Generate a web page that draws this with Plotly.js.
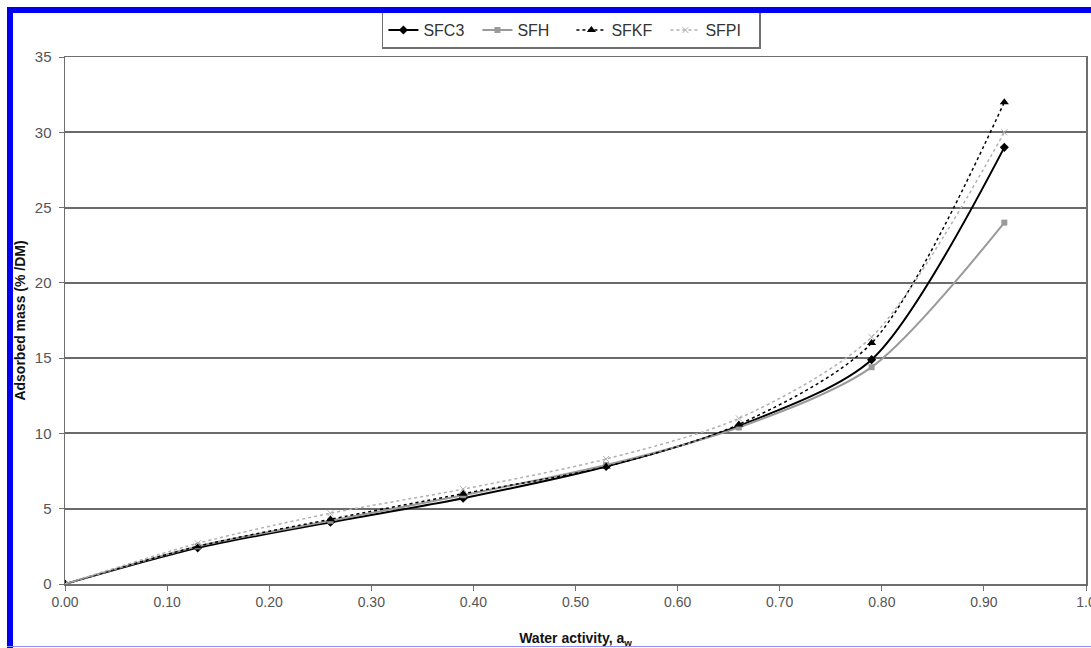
<!DOCTYPE html>
<html>
<head>
<meta charset="utf-8">
<script src="https://cdn.plot.ly/plotly-3.0.1.min.js"></script>
<style>
  html, body { margin: 0; padding: 0; background: #fff; }
  #wrap { position: relative; width: 1091px; height: 648px; overflow: hidden; }
  #chart { position: absolute; left: 0; top: 0; width: 1091px; height: 648px; }
  .bar { position: absolute; background: #0000f0; }
</style>
</head>
<body>
<div id="wrap">
  <div id="chart"></div>
  <div class="bar" style="left:7px; top:7px; width:1084px; height:6px;"></div>
  <div class="bar" style="left:7px; top:7px; width:6px; height:641px;"></div>
  <div class="bar" style="left:7px; top:646px; width:1084px; height:1px; background:#8c8cff;"></div>
</div>
<script>
// Water activity (x) values
const waterActivity = [0, 0.13, 0.26, 0.39, 0.53, 0.66, 0.79, 0.92];

// Adsorbed mass (% / DM) per sample
const SFC3 = [0, 2.4, 4.1, 5.7, 7.8, 10.5, 14.9, 29];
const SFH  = [0, 2.5, 4.2, 5.9, 7.9, 10.4, 14.4, 24];
const SFKF = [0, 2.5, 4.3, 6.0, 7.8, 10.6, 16.0, 32];
const SFPI = [0, 2.7, 4.7, 6.3, 8.3, 11.0, 16.4, 30];

const xTickVals = [0, 0.1, 0.2, 0.3, 0.4, 0.5, 0.6, 0.7, 0.8, 0.9, 1.0];
const xTickText = ["0.00", "0.10", "0.20", "0.30", "0.40", "0.50", "0.60", "0.70", "0.80", "0.90", "1.0"];
const yTickVals = [0, 5, 10, 15, 20, 25, 30, 35];

const FONT = "Liberation Sans, Arial, sans-serif";

const traces = [
  { name: "SFC3", x: waterActivity, y: SFC3, mode: "lines+markers",
    line: { color: "#000000", width: 2, shape: "spline", smoothing: 0.8 },
    marker: { symbol: "diamond", size: 7, color: "#000000" } },
  { name: "SFH", x: waterActivity, y: SFH, mode: "lines+markers",
    line: { color: "#9a9a9a", width: 2, shape: "spline", smoothing: 0.8 },
    marker: { symbol: "square", size: 6, color: "#9a9a9a" } },
  { name: "SFKF", x: waterActivity, y: SFKF, mode: "lines+markers",
    line: { color: "#000000", width: 1.5, dash: "dot", shape: "spline", smoothing: 0.8 },
    marker: { symbol: "triangle-up", size: 8, color: "#000000" } },
  { name: "SFPI", x: waterActivity, y: SFPI, mode: "lines+markers",
    line: { color: "#b0b0b0", width: 1.5, dash: "dot", shape: "spline", smoothing: 0.8 },
    marker: { symbol: "x-thin", size: 6, color: "#b0b0b0", line: { color: "#b0b0b0", width: 1 } } }
];

const layout = {
  width: 1091, height: 648,
  margin: { l: 65, r: 5, t: 57, b: 64 },
  paper_bgcolor: "#ffffff", plot_bgcolor: "#ffffff",
  font: { family: FONT, color: "#444444", size: 14 },
  showlegend: true,
  legend: {
    orientation: "h", x: 0.496, xanchor: "center", y: 0.982, yref: "container", yanchor: "top",
    bordercolor: "#707070", borderwidth: 1.5, bgcolor: "#ffffff",
    font: { family: FONT, size: 16, color: "#333333" },
    entrywidth: 49, tracegroupgap: 0
  },
  xaxis: {
    range: [0, 1.0], tickvals: xTickVals, ticktext: xTickText,
    showgrid: false, zeroline: false,
    showline: true, linecolor: "#6e6e6e", linewidth: 1.5, mirror: true,
    ticks: "outside", ticklen: 5, tickcolor: "#6e6e6e", tickwidth: 1,
    tickfont: { family: FONT, size: 14, color: "#555555" },
    ticklabeloverflow: "allow",
    automargin: false,
    title: { text: "Water activity, a<sub>w</sub>", standoff: 30,
      font: { family: FONT, size: 14, color: "#111111", weight: "bold" } }
  },
  yaxis: {
    range: [0, 35], tickvals: yTickVals,
    showgrid: true, gridcolor: "#6a6a6a", gridwidth: 2, zeroline: false,
    showline: true, linecolor: "#6e6e6e", linewidth: 1.5, mirror: true,
    ticks: "outside", ticklen: 5, tickcolor: "#6e6e6e", tickwidth: 1,
    tickfont: { family: FONT, size: 15, color: "#555555" },
    ticklabelstandoff: 4,
    automargin: false,
    title: { text: "Adsorbed mass (% /DM)", standoff: 6,
      font: { family: FONT, size: 14, color: "#111111", weight: "bold" } }
  }
};

Plotly.newPlot("chart", traces, layout, { displayModeBar: false, staticPlot: true });
</script>
</body>
</html>
